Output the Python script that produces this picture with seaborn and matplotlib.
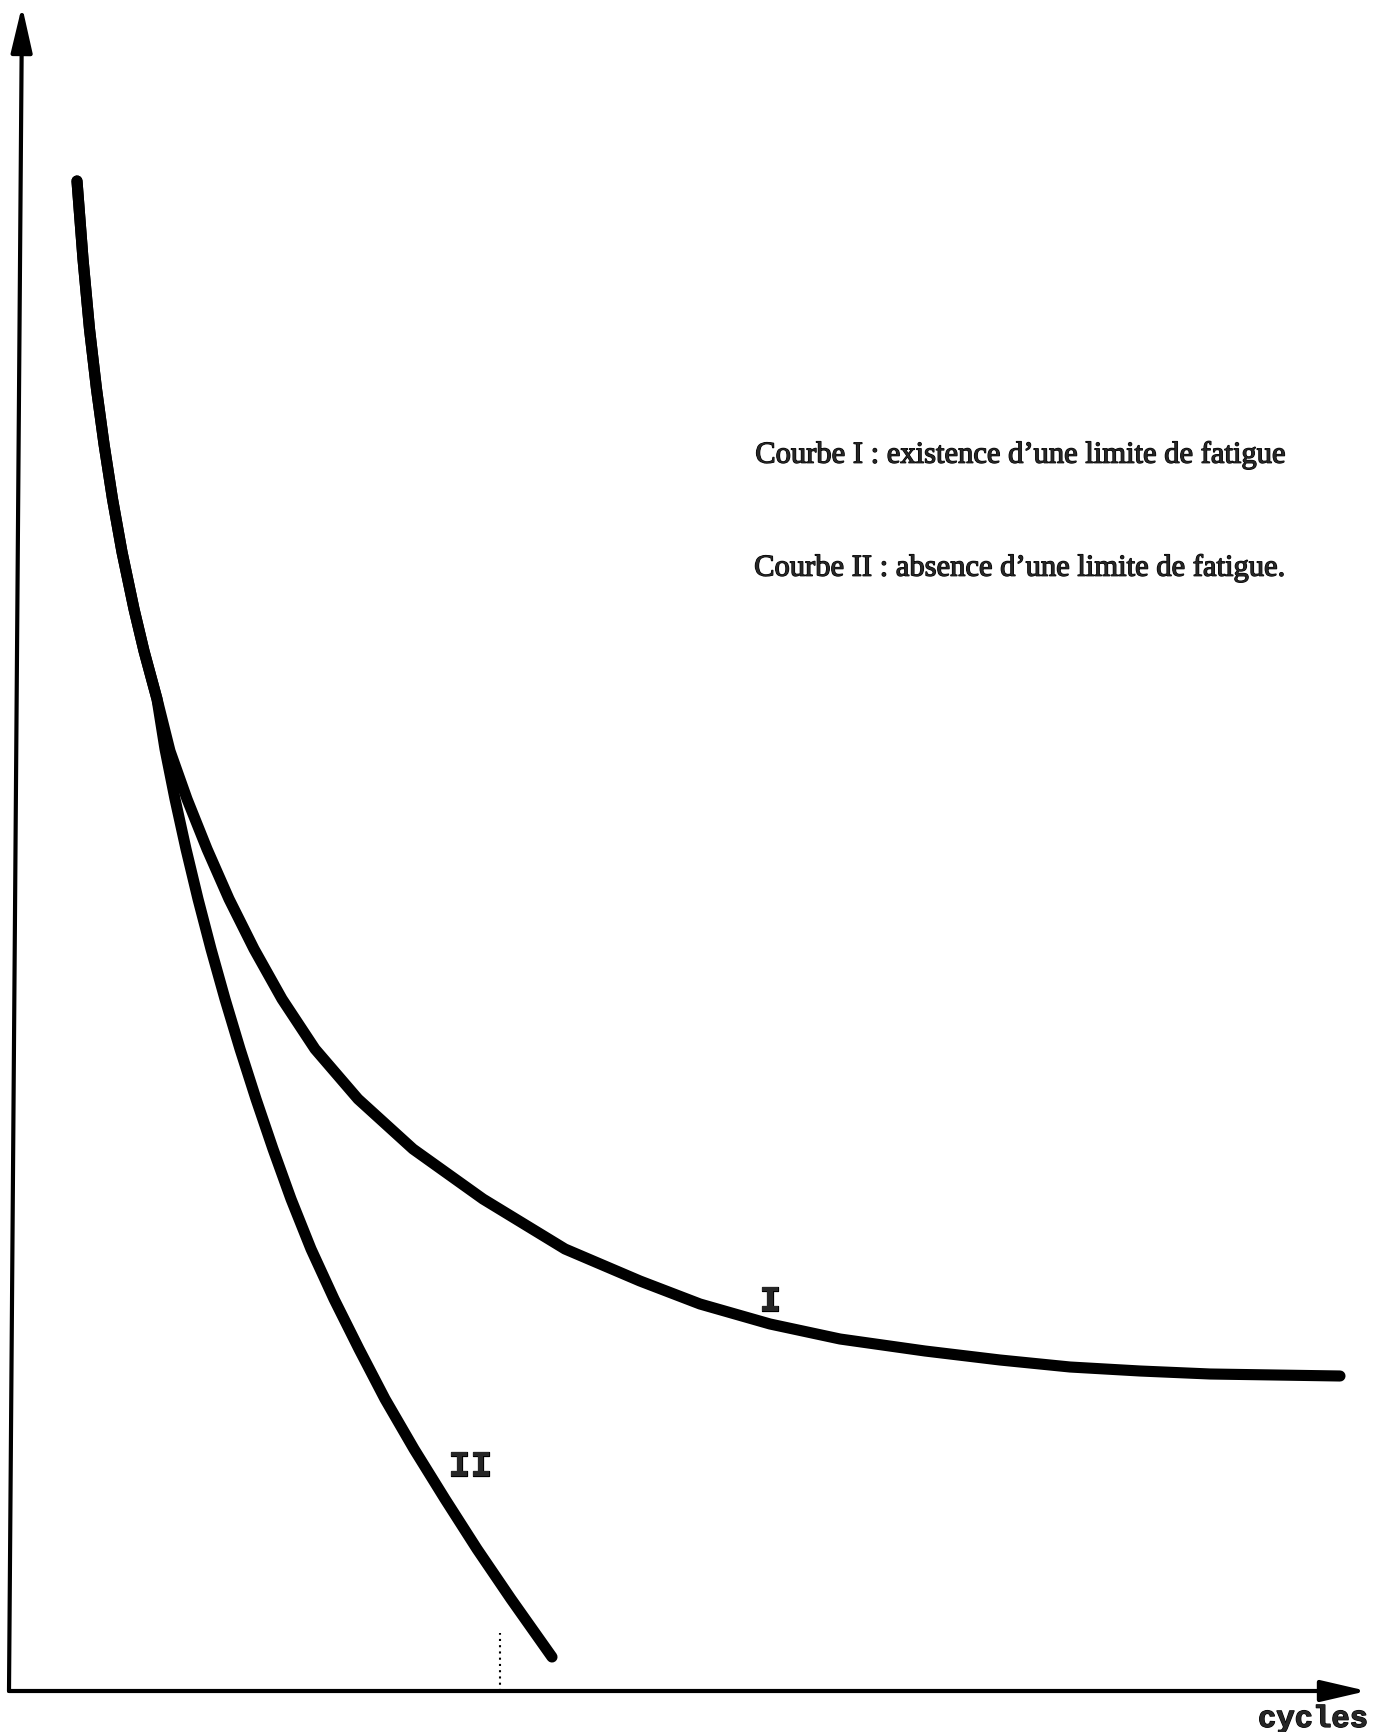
import matplotlib
matplotlib.use("Agg")
import matplotlib.pyplot as plt
import matplotlib.patheffects as pe
import seaborn as sns
import pandas as pd

# points (arbitrary units: cycles on x, stress on y)
shared_x = [5.5, 6.1, 6.75, 7.45, 8.2, 9.05, 10.0, 11.2, 12.2, 13.5]
shared_y = [151.0, 143.2, 136.2, 130.2, 124.7, 119.2, 113.9, 108.2, 104.0, 99.2]

curve1_x = [14.8, 16.5, 18.5, 20.7, 23.2, 26.0, 29.3, 33.6, 39.1, 46.1, 54.3,
            61.8, 67.8, 74.8, 81.8, 90.3, 97.8, 104.8, 111.8, 118.8, 131.8]
curve1_y = [94.0, 89.2, 84.2, 79.2, 74.2, 69.2, 64.2, 59.2, 54.2, 49.2, 44.2,
            41.0, 38.7, 36.7, 35.2, 34.0, 33.1, 32.4, 32.0, 31.7, 31.5]

curve2_x = [14.3, 15.3, 16.4, 17.6, 18.9, 20.3, 21.8, 23.4, 25.1, 26.9,
            28.9, 31.2, 33.7, 36.3, 39.2, 42.3, 45.5, 48.9, 53.0]
curve2_y = [94.2, 89.2, 84.2, 79.2, 74.2, 69.2, 64.2, 59.2, 54.2, 49.2,
            44.2, 39.2, 34.2, 29.2, 24.2, 19.2, 14.2, 9.2, 3.4]

curve_names = ["I", "II"]
label_pos = {"I": (74.8, 39.0), "II": (44.8, 22.5)}
legend_lines = ["Courbe I : existence d\u2019une limite de fatigue",
                "Courbe II : absence d\u2019une limite de fatigue."]
x_label = "cycles"

df = pd.concat([
    pd.DataFrame({"x": shared_x + curve1_x, "y": shared_y + curve1_y, "courbe": "I"}),
    pd.DataFrame({"x": shared_x + curve2_x, "y": shared_y + curve2_y, "courbe": "II"}),
], ignore_index=True)

sns.set_style("white")
fig = plt.figure(figsize=(13.78, 17.33), dpi=100)
ax = fig.add_axes([0, 0, 1, 1])

sns.lineplot(data=df, x="x", y="y", hue="courbe", units="courbe", estimator=None,
             sort=False, palette=["black", "black"], linewidth=8, legend=False,
             ax=ax, solid_capstyle="round", solid_joinstyle="round")

ax.set_xlim(-2.2, 135.6)
ax.set_ylim(-4.1, 169.2)
ax.axis("off")

# axes drawn as arrows, like the hand-drawn original
arrow = dict(arrowstyle="-|>,head_length=28,head_width=6.5", mutation_scale=1,
             lw=3, color="black", shrinkA=0, shrinkB=0)
ax.annotate("", xy=(134.5, 0), xytext=(-1.3, 0), arrowprops=arrow)
ax.annotate("", xy=(0, 168.5), xytext=(-1.3, 0), arrowprops=arrow)

# small dotted mark on the cycle axis
ax.plot([47.8, 47.8], [0, 5.8], color="black", lw=1.5, ls=(0, (1, 2)))

bold = [pe.withStroke(linewidth=0.9, foreground="black")]

ax.text(123.6, -3.6, x_label, family="Liberation Mono", weight="bold",
        fontsize=22, ha="left", va="baseline", path_effects=bold)

for name in curve_names:
    lx, ly = label_pos[name]
    ax.text(lx, ly, name, family="Liberation Mono", weight="bold", fontsize=26,
            ha="center", va="center", path_effects=bold)

ax.text(126.2, 123.6, legend_lines[0], family="Liberation Serif", fontsize=22,
        ha="right", va="center", path_effects=bold)
ax.text(126.2, 112.3, legend_lines[1], family="Liberation Serif", fontsize=22,
        ha="right", va="center", path_effects=bold)

fig.savefig("out.png", dpi=100, facecolor="white")
